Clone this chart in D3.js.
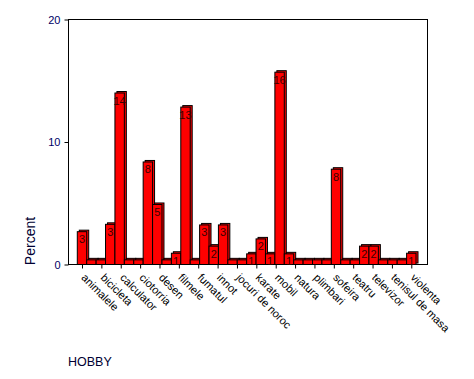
<!DOCTYPE html>
<html><head><meta charset="utf-8">
<script src="https://cdn.jsdelivr.net/npm/d3@7"></script>
<style>body{margin:0;background:#fff}svg{display:block}</style>
</head><body>
<svg id="chart" width="474" height="379"></svg>
<script>
// ---- data ----
const xLabels = ["animalele","bicicleta","calculator","ciotorria","desen","filmele","fumatul","innot","jocuri de noroc","karate","mobil","natura","plimbari","sofeira","teatru","televizor","tenisul de masa","violenta"];
const percentValues = [2.68,0.38,0.38,3.28,14.0,0.38,0.38,8.37,4.9,0.38,0.92,12.85,0.38,3.23,1.5,3.23,0.38,0.38,0.87,2.09,0.87,15.7,0.87,0.38,0.38,0.38,0.38,7.78,0.38,0.38,1.5,1.5,0.38,0.38,0.38,0.92];
const yTicks = [0,10,20];
const yTitle = "Percent";
const xTitle = "HOBBY";

// ---- chart ----
const FONT = "Arial, 'Liberation Sans', sans-serif";
const svg = d3.select("#chart");
const plot = {left:68.5, right:427.5, top:19.5, bottom:264.5};
const bars = percentValues.map((v,i)=>({i, v}));

const x = d3.scaleBand().domain(d3.range(percentValues.length)).range([77.3, 416]).padding(0);
const y = d3.scaleLinear().domain([0,20]).range([plot.bottom, plot.top]);
const bw = x.bandwidth();
const xLab = d3.scalePoint().domain(xLabels).range([x(0)+bw/2, x(percentValues.length-1)+bw/2]);

// frame
svg.append("rect").attr("x",plot.left).attr("y",plot.top)
  .attr("width",plot.right-plot.left).attr("height",plot.bottom-plot.top)
  .attr("fill","none").attr("stroke","#000").attr("stroke-width",1);

// bars: back (depth) then front
const dx = 2, dy = -1.5;
const g = svg.append("g");
g.selectAll("rect.back").data(bars).join("rect").attr("class","back")
  .attr("x",d=>x(d.i)+dx).attr("y",d=>y(d.v)+dy)
  .attr("width",bw).attr("height",d=>plot.bottom-y(d.v))
  .attr("fill","#ff0000").attr("stroke","#000").attr("stroke-width",1);
g.selectAll("rect.front").data(bars).join("rect").attr("class","front")
  .attr("x",d=>x(d.i)).attr("y",d=>y(d.v))
  .attr("width",bw).attr("height",d=>plot.bottom-y(d.v))
  .attr("fill","#ff0000").attr("stroke","#000").attr("stroke-width",1);

// value labels
g.selectAll("text.val").data(bars.filter(d=>Math.round(d.v)>0)).join("text").attr("class","val")
  .attr("x",d=>x(d.i)+bw/2).attr("y",d=>y(d.v)+11.5)
  .attr("text-anchor","middle").attr("font-family",FONT).attr("font-size",11)
  .attr("fill","#3a0000").text(d=>Math.round(d.v));

// y axis
const ya = svg.append("g").attr("transform",`translate(${plot.left},0)`)
  .call(d3.axisLeft(y).tickValues(yTicks).tickSize(4).tickPadding(4));
ya.select(".domain").remove();
ya.selectAll("line").attr("stroke","#000");
ya.selectAll("text").attr("font-family",FONT).attr("font-size",11).attr("fill","#000066");

// x axis
const xa = svg.append("g").attr("transform",`translate(0,${plot.bottom})`)
  .call(d3.axisBottom(xLab).tickSize(4));
xa.select(".domain").remove();
xa.selectAll("line").attr("stroke","#000");
xa.selectAll("text").attr("font-family",FONT).attr("font-size",11).attr("fill","#000")
  .attr("text-anchor","start").attr("x",0).attr("y",0).attr("dy","0.75em")
  .attr("transform","translate(4,8) rotate(45)");

// titles
svg.append("text").attr("transform",`translate(35,241) rotate(-90)`)
  .attr("text-anchor","middle").attr("font-family",FONT).attr("font-size",14)
  .attr("fill","#000033").text(yTitle);
svg.append("text").attr("x",68).attr("y",366)
  .attr("font-family",FONT).attr("font-size",12.5).attr("fill","#000033").text(xTitle);
</script>
</body></html>
